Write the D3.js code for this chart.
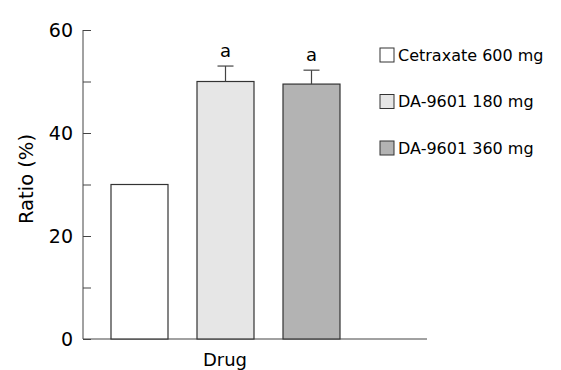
<!DOCTYPE html>
<html>
<head>
<meta charset="utf-8">
<script src="https://cdn.jsdelivr.net/npm/d3@7"></script>
<style>
  body { margin: 0; background: #fff; }
  text { font-family: "DejaVu Sans", Verdana, sans-serif; fill: #000; }
</style>
</head>
<body>
<svg width="561" height="370"></svg>
<script>
var groups = ["Cetraxate 600 mg", "DA-9601 180 mg", "DA-9601 360 mg"];
var values = [30, 50, 49.5];
var errors = [0, 3, 2.7];
var marks = ["", "a", "a"];
var fills = ["#ffffff", "#e6e6e6", "#b3b3b3"];
var yTicks = [0, 10, 20, 30, 40, 50, 60];
var yLabels = [0, 20, 40, 60];

var svg = d3.select("svg"),
    width = +svg.attr("width"),
    height = +svg.attr("height");

var y = d3.scaleLinear().domain([0, 60]).range([339, 30]);
var x = d3.scaleBand().domain(groups).range([111, 340]).paddingInner(29 / 86).paddingOuter(0);

// y axis
var yAxis = svg.append("g").attr("transform", "translate(83,0)")
    .call(d3.axisRight(y).tickValues(yTicks).tickSize(8).tickFormat(""));
yAxis.select(".domain").attr("stroke", "#444").attr("d", "M0,30V339");
yAxis.selectAll(".tick line").attr("stroke", "#444");

svg.selectAll(".ylab").data(yLabels).enter().append("text")
    .attr("class", "ylab")
    .attr("x", 73)
    .attr("y", function (d) { return y(d); })
    .attr("dy", ".36em")
    .attr("text-anchor", "end")
    .style("font-size", "19px")
    .text(function (d) { return d; });

// x axis line
svg.append("line")
    .attr("x1", 83).attr("x2", 427)
    .attr("y1", y(0)).attr("y2", y(0))
    .attr("stroke", "#444");

// bars
svg.selectAll(".bar").data(groups).enter().append("rect")
    .attr("class", "bar")
    .attr("x", function (d) { return x(d); })
    .attr("width", x.bandwidth())
    .attr("y", function (d, i) { return y(values[i]); })
    .attr("height", function (d, i) { return y(0) - y(values[i]); })
    .attr("fill", function (d, i) { return fills[i]; })
    .attr("stroke", "#333")
    .attr("stroke-width", 1.2);

// error bars
var eb = svg.selectAll(".err").data(groups.filter(function (d, i) { return errors[i] > 0; }))
  .enter().append("g").attr("class", "err");
eb.append("line")
    .attr("x1", function (d) { return x(d) + x.bandwidth() / 2; })
    .attr("x2", function (d) { return x(d) + x.bandwidth() / 2; })
    .attr("y1", function (d) { var i = groups.indexOf(d); return y(values[i]); })
    .attr("y2", function (d) { var i = groups.indexOf(d); return y(values[i] + errors[i]); })
    .attr("stroke", "#444").attr("stroke-width", 1.2);
eb.append("line")
    .attr("x1", function (d) { return x(d) + x.bandwidth() / 2 - 8; })
    .attr("x2", function (d) { return x(d) + x.bandwidth() / 2 + 8; })
    .attr("y1", function (d) { var i = groups.indexOf(d); return y(values[i] + errors[i]); })
    .attr("y2", function (d) { var i = groups.indexOf(d); return y(values[i] + errors[i]); })
    .attr("stroke", "#444").attr("stroke-width", 1.2);

svg.selectAll(".mark").data(groups).enter().append("text")
    .attr("class", "mark")
    .attr("x", function (d) { return x(d) + x.bandwidth() / 2; })
    .attr("y", function (d, i) { return y(values[i] + errors[i]) - 9; })
    .attr("text-anchor", "middle")
    .style("font-size", "18px")
    .text(function (d, i) { return marks[i]; });

// axis titles
svg.append("text")
    .attr("transform", "translate(33,179) rotate(-90)")
    .attr("text-anchor", "middle")
    .style("font-size", "19.5px")
    .text("Ratio (%)");

svg.append("text")
    .attr("x", 225).attr("y", 366)
    .attr("text-anchor", "middle")
    .style("font-size", "18px")
    .text("Drug");

// legend
var legend = svg.selectAll(".legend").data(groups).enter().append("g")
    .attr("class", "legend")
    .attr("transform", function (d, i) { return "translate(380," + (55 + i * 46.5) + ")"; });
legend.append("rect")
    .attr("x", 0).attr("y", -7).attr("width", 14).attr("height", 14)
    .attr("fill", function (d, i) { return fills[i]; })
    .attr("stroke", "#333");
legend.append("text")
    .attr("x", 18).attr("dy", ".36em")
    .style("font-size", "16px")
    .text(function (d) { return d; });
</script>
</body>
</html>
